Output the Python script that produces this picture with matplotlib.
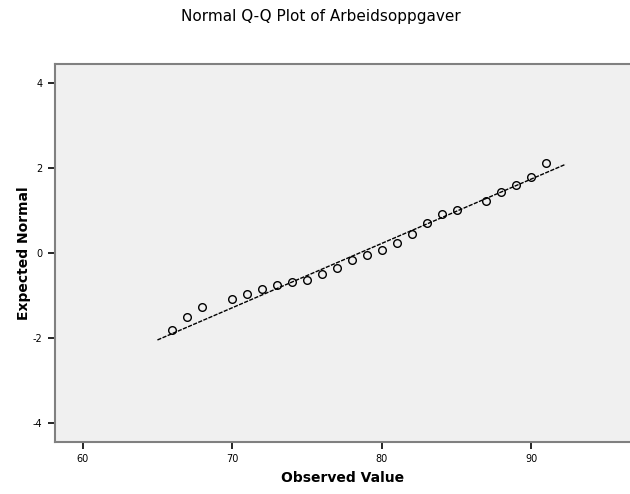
import numpy as np
import matplotlib
matplotlib.use("Agg")
import matplotlib.pyplot as plt

plt.rcParams["axes.unicode_minus"] = False

observed = [66, 67, 68, 70, 71, 72, 73, 74, 75, 76, 77, 78, 79, 80, 81, 82,
            83, 84, 85, 87, 88, 89, 90, 91]
expected = [-1.80, -1.50, -1.27, -1.08, -0.97, -0.85, -0.76, -0.68, -0.63,
            -0.50, -0.36, -0.17, -0.05, 0.07, 0.24, 0.46, 0.70, 0.93, 1.02,
            1.22, 1.44, 1.61, 1.78, 2.11]

# reference line
line_mean = 78.5
line_sd = 6.6
line_x = np.array([65.0, 92.3])
line_y = (line_x - line_mean) / line_sd

xticks = [60, 70, 80, 90]
yticks = [-4, -2, 0, 2, 4]

fig = plt.figure(figsize=(6.3, 4.94), dpi=100)
ax = fig.add_axes([0.0873, 0.1059, 0.9127, 0.7645])
ax.set_facecolor("#f0f0f0")

ax.plot(line_x, line_y, color="black", linewidth=1.0, linestyle=(0, (3, 1)))
ax.plot(observed, expected, linestyle="none", marker="o", markersize=5.5,
        markerfacecolor="none", markeredgecolor="black", markeredgewidth=1.0)

ax.set_xlim(58.15, 96.6)
ax.set_ylim(-4.44, 4.45)
ax.set_xticks(xticks)
ax.set_yticks(yticks)
ax.tick_params(labelsize=7, length=5, width=1.2, colors="black", pad=4)

for side in ["left", "bottom", "top"]:
    ax.spines[side].set_color("#808080")
    ax.spines[side].set_linewidth(1.5)
ax.spines["right"].set_visible(False)

ax.set_xlabel("Observed Value", fontsize=10, fontweight="bold", labelpad=5)
ax.set_ylabel("Expected Normal", fontsize=10, fontweight="bold", labelpad=1)
fig.suptitle("Normal Q-Q Plot of Arbeidsoppgaver", fontsize=11,
             fontweight="medium", x=0.51, y=0.982)

fig.savefig("out.png", dpi=100)
